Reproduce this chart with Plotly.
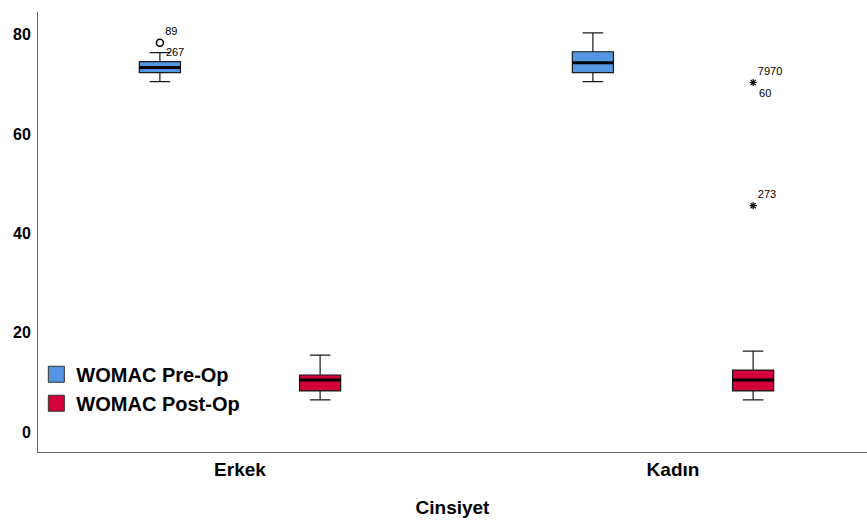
import plotly.graph_objects as go

# Groups on the x axis
categories = ["Erkek", "Kadın"]

# Box statistics per group: WOMAC pre-operative
pre_q1 = [72.4, 72.4]
pre_median = [73.4, 74.4]
pre_q3 = [74.6, 76.6]
pre_lower = [70.6, 70.6]
pre_upper = [76.4, 80.4]

# Box statistics per group: WOMAC post-operative
post_q1 = [8.3, 8.3]
post_median = [10.5, 10.5]
post_q3 = [11.5, 12.5]
post_lower = [6.5, 6.5]
post_upper = [15.5, 16.3]

# Outliers (o) and extremes (*): group index, series, value, case label
out_group = [0, 0, 1, 1, 1]
out_series = ["pre", "pre", "post", "post", "post"]
out_value = [78.4, 76.2, 70.4, 70.4, 45.6]
out_label = ["89", "267", "7970", "60", "273"]
out_kind = ["circle", "none", "star", "none", "star"]
out_textpos = ["top right", "middle right", "top right", "bottom right", "top right"]

y_ticks = [0, 20, 40, 60, 80]

PRE_COLOR = "#5596E3"
POST_COLOR = "#D4003A"
OFFSET = 0.185
BOX_W = 0.095
FONT = "Liberation Sans, Arial, sans-serif"

series_offset = {"pre": -OFFSET, "post": OFFSET}

fig = go.Figure()


def add_boxes(offset, q1, med, q3, lo, hi, color):
    xs = [i + offset for i in range(len(categories))]
    fig.add_trace(go.Box(
        x=xs, q1=q1, median=med, q3=q3, lowerfence=lo, upperfence=hi,
        width=BOX_W, whiskerwidth=0.5, boxpoints=False,
        fillcolor=color, line=dict(color="#1a1a1a", width=1.2),
        showlegend=False, hoverinfo="skip",
    ))
    # thicker median bars
    for x, m in zip(xs, med):
        fig.add_trace(go.Scatter(
            x=[x - BOX_W / 2, x + BOX_W / 2], y=[m, m], mode="lines",
            line=dict(color="black", width=3), showlegend=False, hoverinfo="skip",
        ))


add_boxes(series_offset["pre"], pre_q1, pre_median, pre_q3, pre_lower, pre_upper, PRE_COLOR)
add_boxes(series_offset["post"], post_q1, post_median, post_q3, post_lower, post_upper, POST_COLOR)

# outlier markers with case labels
for g, s, v, lab, kind, tp in zip(out_group, out_series, out_value, out_label, out_kind, out_textpos):
    x = g + series_offset[s]
    if kind == "circle":
        marker = dict(symbol="circle-open", size=7, color="black", line=dict(width=1.5))
    elif kind == "star":
        marker = dict(symbol="asterisk-open", size=6, color="black", line=dict(width=1.2, color="black"))
    else:
        # label only; an invisible marker keeps the text offset from the point
        marker = dict(size=8, color="rgba(0,0,0,0)")
    fig.add_trace(go.Scatter(
        x=[x], y=[v], mode="markers+text", marker=marker, text=[lab],
        textposition=tp, textfont=dict(family=FONT, size=11, color="black"),
        showlegend=False, hoverinfo="skip", cliponaxis=False,
    ))

# legend entries
for name, color in [("WOMAC Pre-Op", PRE_COLOR), ("WOMAC Post-Op", POST_COLOR)]:
    fig.add_trace(go.Scatter(
        x=[None], y=[None], mode="markers", name=name,
        marker=dict(symbol="square", size=18, color=color, line=dict(color="#333", width=1)),
    ))

fig.update_layout(
    width=867, height=523,
    margin=dict(l=38, r=0, t=12, b=71),
    paper_bgcolor="white", plot_bgcolor="white",
    font=dict(family=FONT, color="black"),
    legend=dict(
        x=-0.002, y=0.221, xanchor="left", yanchor="top",
        font=dict(family=FONT, size=20, color="black", weight="bold"),
        bgcolor="rgba(0,0,0,0)", itemwidth=30, tracegroupgap=0,
    ),
    xaxis=dict(
        range=[-0.4665, 1.448], tickvals=list(range(len(categories))), ticktext=categories,
        showline=True, linecolor="#666", linewidth=1, showgrid=False, zeroline=False,
        ticks="", ticklabelstandoff=0,
        tickfont=dict(family=FONT, size=19, color="black", weight="bold"),
        title=dict(text="Cinsiyet", standoff=21,
                   font=dict(family=FONT, size=19, color="black", weight="bold")),
    ),
    yaxis=dict(
        range=[-4.0, 84.6], tickvals=y_ticks,
        showline=True, linecolor="#666", linewidth=1, showgrid=False, zeroline=False,
        ticks="", ticklabelstandoff=3,
        tickfont=dict(family=FONT, size=16, color="black", weight="bold"),
    ),
)

fig.write_html("out.html")
